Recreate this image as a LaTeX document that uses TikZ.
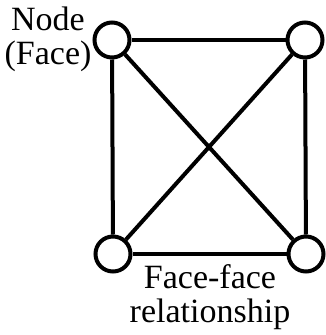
\documentclass[tikz,border=0pt]{standalone}
\usepackage{fontspec}
\setmainfont{Liberation Serif}
\begin{document}
\begin{tikzpicture}[x=1pt,y=-1pt,
  face/.style={circle,draw,fill=white,line width=4pt,minimum size=35pt,inner sep=0pt},
  rel/.style={line width=4pt},
  caption/.style={align=center,font=\fontsize{34}{34}\selectfont,inner sep=0pt}]
  \useasboundingbox (0,0) rectangle (326,335);
  % the four faces
  \node[face] (tl) at (112,40) {};
  \node[face] (tr) at (305,40) {};
  \node[face] (bl) at (113,254) {};
  \node[face] (br) at (306,254) {};
  % every pair of faces is related
  \draw[rel] (tl) -- (tr);
  \draw[rel] (tr) -- (br);
  \draw[rel] (br) -- (bl);
  \draw[rel] (bl) -- (tl);
  \draw[rel] (tl) -- (br);
  \draw[rel] (tr) -- (bl);
  % labels
  \node[caption,anchor=base] (nodelbl) at (48,64) {Node\\(Face)};
  \node[caption,anchor=base] (rellbl) at (210,322) {Face-face\\relationship};
\end{tikzpicture}
\end{document}
